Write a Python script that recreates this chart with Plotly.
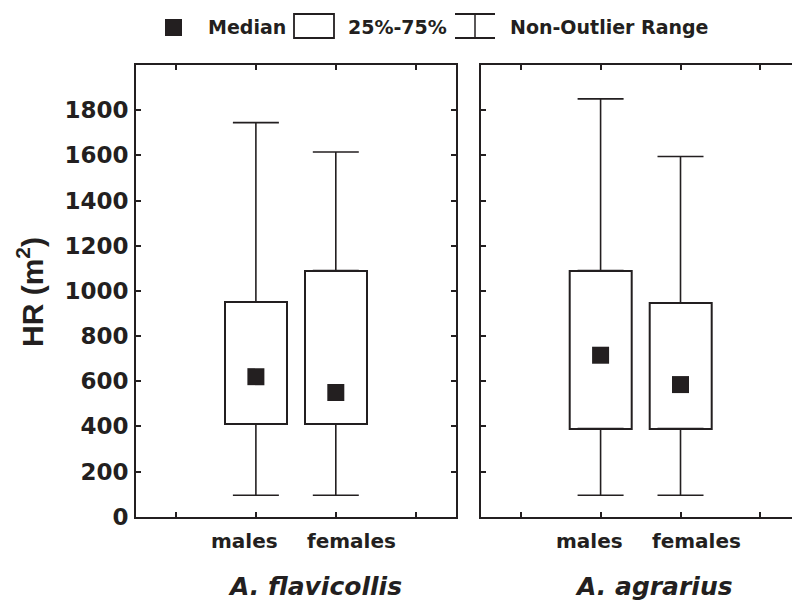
import plotly.graph_objects as go

# ---------------- data ----------------
sexes = ["males", "females"]
species = ["A. flavicollis", "A. agrarius"]

flav_median = [620, 550]
flav_q1 = [410, 410]
flav_q3 = [950, 1090]
flav_min = [95, 95]
flav_max = [1745, 1615]

agr_median = [715, 585]
agr_q1 = [390, 390]
agr_q3 = [1090, 945]
agr_min = [95, 95]
agr_max = [1850, 1595]

y_ticks = [0, 200, 400, 600, 800, 1000, 1200, 1400, 1600, 1800]

legend_labels = ["Median", "25%-75%", "Non-Outlier Range"]

# ---------------- styling ----------------
W, H = 792, 600
INK = "#231f20"
FONT = "DejaVu Sans"


def px(x):
    return x / W


def py(y):
    return 1 - y / H


fig = go.Figure()

# category positions: one empty slot on each side of the two groups
cat_pos = [i + 1 for i in range(len(sexes))]
tick_vals = [0] + cat_pos + [len(sexes) + 1]
label_shift = [-11, 16]

panels = [
    ("x", "y", flav_median, flav_q1, flav_q3, flav_min, flav_max),
    ("x2", "y2", agr_median, agr_q1, agr_q3, agr_min, agr_max),
]

for xa, ya, med, q1, q3, lo, hi in panels:
    # box (25%-75%)
    fig.add_trace(go.Bar(
        x=cat_pos, y=[b - a for a, b in zip(q1, q3)], base=q1,
        width=0.78, xaxis=xa, yaxis=ya,
        marker=dict(color="white", line=dict(color=INK, width=2)),
        hoverinfo="skip", showlegend=False,
    ))
    # upper whisker
    fig.add_trace(go.Scatter(
        x=cat_pos, y=q3, mode="markers", xaxis=xa, yaxis=ya,
        marker=dict(size=2, color="rgba(0,0,0,0)"),
        error_y=dict(type="data", symmetric=False,
                     array=[h - b for h, b in zip(hi, q3)],
                     arrayminus=[0] * len(q3),
                     color=INK, thickness=1.6, width=23),
        hoverinfo="skip", showlegend=False,
    ))
    # lower whisker
    fig.add_trace(go.Scatter(
        x=cat_pos, y=q1, mode="markers", xaxis=xa, yaxis=ya,
        marker=dict(size=2, color="rgba(0,0,0,0)"),
        error_y=dict(type="data", symmetric=False,
                     array=[0] * len(q1),
                     arrayminus=[a - l for a, l in zip(q1, lo)],
                     color=INK, thickness=1.6, width=23),
        hoverinfo="skip", showlegend=False,
    ))
    # median
    fig.add_trace(go.Scatter(
        x=cat_pos, y=med, mode="markers", xaxis=xa, yaxis=ya,
        marker=dict(symbol="square", size=17, color=INK,
                    line=dict(width=0)),
        hoverinfo="skip", showlegend=False,
    ))

# ---------------- axes ----------------
x1_dom = [px(136), px(455.7)]
x2_dom = [px(480.7), 1.0]
y_dom = [py(516.7), py(65)]
unit = (455.7 - 136) / 4.0
x2_span = (W - 480.7) / unit

common_x = dict(
    showline=True, linecolor=INK, linewidth=2,
    ticks="inside", ticklen=5, tickwidth=2, tickcolor=INK,
    mirror="ticks", showgrid=False, zeroline=False,
    tickvals=tick_vals, showticklabels=False,
    fixedrange=True, automargin=False,
)

fig.update_layout(
    template="none",
    width=W, height=H,
    margin=dict(l=0, r=0, t=0, b=0, pad=0),
    paper_bgcolor="white", plot_bgcolor="white",
    showlegend=False, bargap=0,
    xaxis=dict(domain=x1_dom, range=[-0.5, 3.5], anchor="y", **common_x),
    xaxis2=dict(domain=x2_dom, range=[-0.5, -0.5 + x2_span], anchor="y2", **common_x),
    yaxis=dict(
        domain=y_dom, range=[0, 2000], anchor="x",
        showline=True, linecolor=INK, linewidth=2,
        ticks="inside", ticklen=5, tickwidth=2, tickcolor=INK,
        mirror="ticks", showgrid=False, zeroline=False,
        tickvals=y_ticks,
        tickfont=dict(family=FONT, size=23, color=INK, weight="bold"),
        ticklabelstandoff=1, fixedrange=True, automargin=False,
    ),
    yaxis2=dict(
        domain=y_dom, range=[0, 2000], anchor="x2",
        showline=True, linecolor=INK, linewidth=2,
        ticks="inside", ticklen=5, tickwidth=2, tickcolor=INK,
        mirror=False, showgrid=False, zeroline=False,
        tickvals=y_ticks, showticklabels=False, fixedrange=True,
        automargin=False,
    ),
)

annotations = []
# category labels under each panel
for xa in ["x", "x2"]:
    for pos, lab, sh in zip(cat_pos, sexes, label_shift):
        annotations.append(dict(
            text=lab, x=pos, y=py(541), xref=xa, yref="paper",
            xshift=sh, showarrow=False, xanchor="center", yanchor="middle",
            font=dict(family=FONT, size=20, color=INK, weight="bold"),
        ))
# y-axis title
annotations.append(dict(
    text="HR (m<sup>2</sup>)", x=px(30), y=py(292), xref="paper", yref="paper",
    showarrow=False, textangle=-90, xanchor="center", yanchor="middle",
    font=dict(family="Liberation Sans", size=30, color=INK, weight="bold"),
))
# species names
for name, cx in zip(species, [315, 654]):
    annotations.append(dict(
        text=name, x=px(cx), y=py(586), xref="paper", yref="paper",
        showarrow=False, xanchor="center", yanchor="middle",
        font=dict(family=FONT, size=25, color=INK, weight="bold", style="italic"),
    ))
# legend texts
for lab, lx in zip(legend_labels, [206, 346, 508]):
    annotations.append(dict(
        text=lab, x=px(lx), y=py(26.5), xref="paper", yref="paper",
        showarrow=False, xanchor="left", yanchor="middle",
        font=dict(family=FONT, size=19, color=INK, weight="bold"),
    ))

shapes = [
    # legend: median square
    dict(type="rect", xref="paper", yref="paper",
         x0=px(165), x1=px(182), y0=py(36), y1=py(19),
         fillcolor=INK, line=dict(width=0)),
    # legend: box
    dict(type="rect", xref="paper", yref="paper",
         x0=px(294), x1=px(334), y0=py(38), y1=py(14),
         fillcolor="white", line=dict(color=INK, width=1.8)),
    # legend: whisker
    dict(type="line", xref="paper", yref="paper",
         x0=px(455), x1=px(495), y0=py(14), y1=py(14),
         line=dict(color=INK, width=1.8)),
    dict(type="line", xref="paper", yref="paper",
         x0=px(455), x1=px(495), y0=py(38), y1=py(38),
         line=dict(color=INK, width=1.8)),
    dict(type="line", xref="paper", yref="paper",
         x0=px(475), x1=px(475), y0=py(14), y1=py(38),
         line=dict(color=INK, width=1.5)),
]

fig.update_layout(annotations=annotations, shapes=shapes)

fig.write_html(
    "out.html",
    config={"displayModeBar": False},
    post_script="document.body.style.margin='0';document.body.style.overflow='hidden';",
)
